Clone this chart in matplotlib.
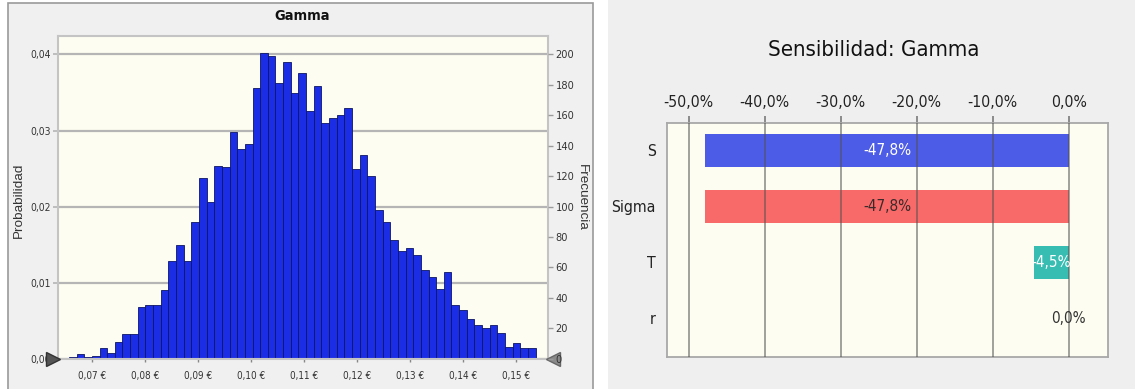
import numpy as np
import matplotlib
matplotlib.use("Agg")
import matplotlib.pyplot as plt
from matplotlib import font_manager as fm
from matplotlib.textpath import TextPath
from matplotlib.patches import Rectangle
from matplotlib.ticker import FixedLocator, FuncFormatter

# ---------------- data ----------------
# Histogram of simulated Gamma values (frequency per bin)
hist_counts = [1, 3, 1, 2, 7, 4, 11, 16, 16, 34,
               35, 35, 45, 64, 75, 64, 90, 119, 103,
               127, 126, 149, 138, 141, 178, 201, 199, 181, 195,
               175, 188, 163, 179, 155, 158, 160, 165, 125, 134,
               120, 98, 90, 78, 71, 73, 68, 58, 54, 46, 57, 35,
               32, 26, 22, 20, 22, 17, 8, 10, 7, 7]
bin_start = 0.0656
bin_width = 0.001443
n_trials = 5000                      # frequency / probability ratio
x_ticks = [0.07, 0.08, 0.09, 0.10, 0.11, 0.12, 0.13, 0.14, 0.15]
prob_ticks = [0.00, 0.01, 0.02, 0.03, 0.04]
freq_ticks = list(range(0, 201, 20))

# Sensitivity (tornado) chart
sens_vars = ["S", "Sigma", "T", "r"]
sens_vals = [-47.8, -47.8, -4.5, 0.0]
sens_colors = ["#4d5ce6", "#f86a6a", "#38bdb3", "#888888"]
sens_text_colors = ["white", "#3a2a2a", "white", "#333333"]
sens_ticks = [-50, -40, -30, -20, -10, 0]


# ---------------- fonts: prefer a condensed sans ----------------
def _num(val, table, default):
    try:
        return int(val)
    except (TypeError, ValueError):
        return table.get(str(val), default)


def _width_rank(f):
    key = (f.name + " " + f.fname).lower()
    for ch in " -_":
        key = key.replace(ch, "")
    if "liberationsansnarrow" in key:
        return 0
    if "semicondensed" in key or "semicond" in key:
        return 2
    if "extracondensed" in key or "ultracondensed" in key:
        return 3
    if "condensed" in key or "narrow" in key:
        return 1
    return None


def find_narrow(target_weight):
    best = None
    for f in fm.fontManager.ttflist:
        name = f.name.lower()
        if "mono" in name or "serif" in name or f.style != "normal":
            continue
        wr = _width_rank(f)
        if wr is None:
            continue
        if _num(f.weight, fm.weight_dict, 400) != target_weight:
            continue
        rank = (wr, 0 if "sans" in name else 1, f.fname)
        if best is None or rank < best[0]:
            best = (rank, f.fname)
    return best[1] if best else None


REGULAR = ["Liberation Sans", "DejaVu Sans"]
_reg = find_narrow(400)
_bold = find_narrow(700)


def FP(size):
    if _reg:
        return fm.FontProperties(fname=_reg, size=size)
    return fm.FontProperties(family=REGULAR, size=size)


def FPB(size):
    if _bold:
        return fm.FontProperties(fname=_bold, size=size)
    return fm.FontProperties(family=REGULAR, size=size, weight="bold")


PX_PER_PT = 100 / 72


def fitted(maker, text, width_px, cap_px, wexp=0.75):
    """Font size (pt) balancing an ink width and a cap height in pixels."""
    fp = maker(10)
    w = TextPath((0, 0), text, prop=fp).get_extents().width * PX_PER_PT
    h = TextPath((0, 0), "H", prop=fp).get_extents().height * PX_PER_PT
    s_w = 10 * width_px / w
    s_h = 10 * cap_px / h
    return s_w ** wexp * s_h ** (1 - wexp)


W, H = 1135, 389
fig = plt.figure(figsize=(W / 100, H / 100), dpi=100)
fig.patch.set_facecolor("white")


def fx(px):
    return px / W


def fy(py):
    return 1 - py / H


def box(x0, y0, x1, y1):
    return [fx(x0), fy(y1), fx(x1) - fx(x0), fy(y0) - fy(y1)]


# panel backgrounds
fig.add_artist(Rectangle((fx(8), fy(395)), fx(593) - fx(8), fy(3) - fy(395),
                         transform=fig.transFigure, facecolor="#f0f0f0",
                         edgecolor="#9a9a9a", lw=1.2, zorder=-5))
fig.add_artist(Rectangle((fx(608), 0), 1 - fx(608), 1,
                         transform=fig.transFigure, facecolor="#efefef",
                         edgecolor="none", zorder=-5))

# ---------------- histogram ----------------
cream = "#fdfdf1"
ax = fig.add_axes(box(58.3, 36, 547.7, 358.7))
ax.set_facecolor(cream)
counts = np.array(hist_counts, dtype=float)
lefts = bin_start + bin_width * np.arange(len(counts))
ax.bar(lefts, counts / n_trials, width=bin_width, align="edge",
       color="#1b2ee6", edgecolor="#0d1566", lw=0.6, zorder=2)
ymax = 0.04243
ax.set_xlim(0.0636, 0.1559)
ax.set_ylim(0, ymax)
ax.yaxis.set_major_locator(FixedLocator(prob_ticks))
ax.yaxis.set_major_formatter(FuncFormatter(lambda v, p: f"{v:.2f}".replace(".", ",")))
ax.xaxis.set_major_locator(FixedLocator(x_ticks))
ax.xaxis.set_major_formatter(FuncFormatter(lambda v, p: f"{v:.2f} €".replace(".", ",")))
ax.yaxis.grid(True, color="#b5b5b5", lw=1.6, zorder=1)
ax.set_axisbelow(True)
for s in ax.spines.values():
    s.set_color("#c4c4c4")
    s.set_linewidth(1.5)
ax.tick_params(axis="y", length=3.6, width=1.2, color="#b5b5b5", pad=2,
               labelcolor="#333333")
ax.tick_params(axis="x", length=2.5, width=1, color="#888888", pad=6,
               labelcolor="#333333")
size_prob = fitted(FP, "0,04", 18, 9.3)
size_euro = fitted(FP, "0,07 €", 26, 8.3)
size_freq = fitted(FP, "200", 16.7, 9.3)
for lab in ax.get_yticklabels():
    lab.set_fontproperties(FP(size_prob))
for lab in ax.get_xticklabels():
    lab.set_fontproperties(FP(size_euro))

ax2 = ax.twinx()
ax2.set_ylim(0, ymax * n_trials)
ax2.yaxis.set_major_locator(FixedLocator(freq_ticks))
ax2.tick_params(axis="y", length=3.6, width=1, color="#9a9a9a", pad=2,
                labelcolor="#333333")
for lab in ax2.get_yticklabels():
    lab.set_fontproperties(FP(size_freq))
for s in ax2.spines.values():
    s.set_visible(False)

# range slider triangles
ax.plot([(52.8 - 58.3) / 489.4], [0], marker=">", ms=10, color="#555555",
        mec="#333333", transform=ax.transAxes, clip_on=False, zorder=5)
ax.plot([(552.5 - 58.3) / 489.4], [0], marker="<", ms=10, color="#8a8a8a",
        mec="#666666", transform=ax.transAxes, clip_on=False, zorder=5)

fig.text(fx(302), fy(15.5), "Gamma", ha="center", va="center",
         fontproperties=FPB(fitted(FPB, "Gamma", 51, 12.3)), color="#111111")
fig.text(fx(18.5), fy(200), "Probabilidad", rotation=90, ha="center",
         va="center", size=9.7, family=REGULAR, color="#333333")
fig.text(fx(582), fy(197), "Frecuencia", rotation=270, ha="center",
         va="center", size=9.7, family=REGULAR, color="#333333")

# ---------------- tornado chart ----------------
axr = fig.add_axes(box(666.5, 123, 1107.8, 357))
axr.set_facecolor(cream)
ypos = np.arange(len(sens_vars))
axr.barh(ypos, sens_vals, height=0.58, color=sens_colors, zorder=2)
for t in sens_ticks:
    axr.axvline(t, color="#505050", alpha=0.62, lw=1.2, zorder=3)
axr.set_xlim(-52.92, 5.16)
axr.set_ylim(3.69, -0.49)
axr.xaxis.tick_top()
axr.xaxis.set_major_locator(FixedLocator(sens_ticks))
axr.xaxis.set_major_formatter(FuncFormatter(lambda v, p: f"{v:.1f}%".replace(".", ",")))
axr.set_yticks(ypos)
axr.set_yticklabels(sens_vars)
axr.tick_params(axis="x", top=True, bottom=False, length=5, width=1.2,
                color="#7a7a7a", pad=4.5, labelcolor="#222222")
axr.tick_params(axis="y", length=0, pad=7.8, labelcolor="#222222")
size_pct = fitted(FP, "-50,0%", 46, 13.7)
size_cat = fitted(FP, "Sigma", 39, 14.5)
size_val = fitted(FP, "-47,8%", 44, 13.6)
for lab in axr.get_xticklabels():
    lab.set_fontproperties(FP(size_pct))
for lab in axr.get_yticklabels():
    lab.set_fontproperties(FP(size_cat))
for s in axr.spines.values():
    s.set_color("#a8a8a8")
    s.set_linewidth(1.3)

for y, v, tc in zip(ypos, sens_vals, sens_text_colors):
    axr.text(v / 2, y, f"{v:.1f}%".replace(".", ","), ha="center",
             va="center", fontproperties=FP(size_val), color=tc, zorder=4)

fig.text(fx(874), fy(50), "Sensibilidad: Gamma", ha="center", va="center",
         fontproperties=FP(fitted(FP, "Sensibilidad: Gamma", 193, 20.5)),
         color="#111111")

fig.savefig("out.png", dpi=100)
